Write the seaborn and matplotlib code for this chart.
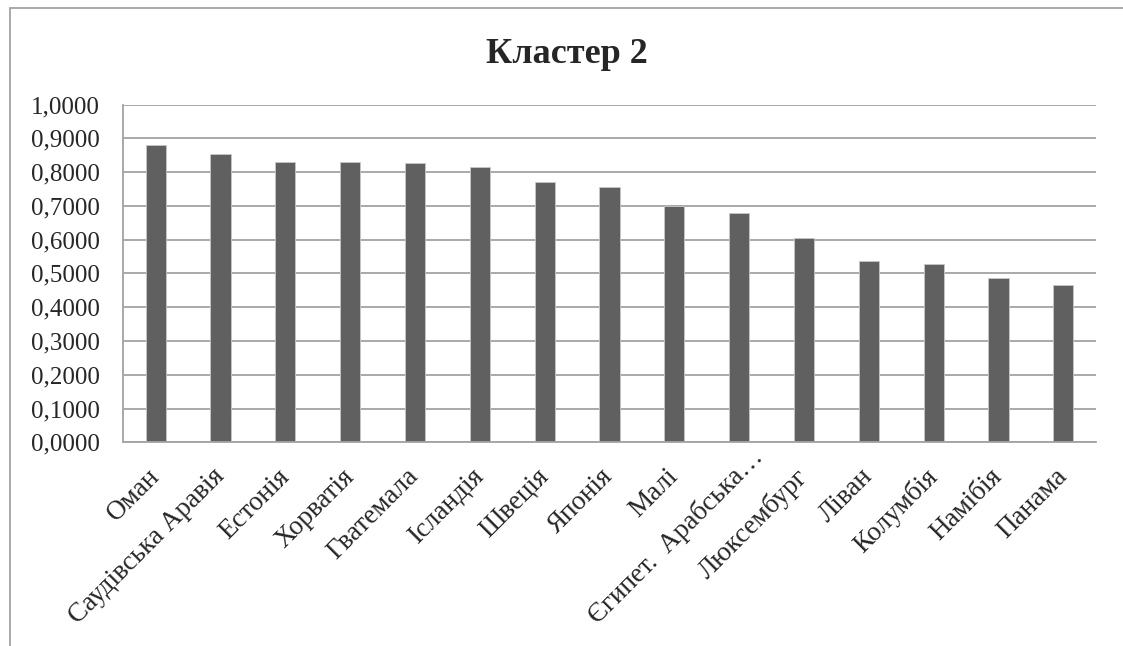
import matplotlib
matplotlib.use("Agg")
import matplotlib.pyplot as plt
from matplotlib.patches import Rectangle
from matplotlib.ticker import FuncFormatter
from matplotlib.transforms import ScaledTranslation
import seaborn as sns
import pandas as pd

# Data

countries = ["Оман", "Саудівська Аравія", "Естонія", "Хорватія", "Гватемала",
             "Ісландія", "Швеція", "Японія", "Малі", "Єгипет.  Арабська…",
             "Люксембург", "Ліван", "Колумбія", "Намібія", "Панама"]
values = [0.881, 0.855, 0.831, 0.830, 0.828, 0.815, 0.771, 0.755, 0.701,
          0.680, 0.605, 0.537, 0.529, 0.485, 0.466]
y_ticks = [i / 10 for i in range(11)]

df = pd.DataFrame({"country": countries, "value": values})

# Style

sns.set_style("white")
plt.rcParams["font.family"] = ["Liberation Serif", "DejaVu Serif"]

grey_line = "#a3a3a3"
bar_colour = "#606060"

fig = plt.figure(figsize=(11.23, 6.46), dpi=100)
ax = fig.add_axes([0.1098, 0.3153, 0.8659, 0.5229])

sns.barplot(data=df, x="country", y="value", color=bar_colour, saturation=1,
            width=0.31, edgecolor="#c8c8c8", linewidth=0.6, ax=ax)

ax.set_ylim(0, 1.0)
ax.set_xlim(-0.5, len(countries) - 0.5)
ax.set_yticks(y_ticks)
ax.yaxis.set_major_formatter(FuncFormatter(lambda v, p: f"{v:.4f}".replace(".", ",")))
ax.yaxis.grid(True, color=grey_line, linewidth=1.3)
ax.set_axisbelow(True)
ax.set_xlabel("")
ax.set_ylabel("")

for side in ["top", "right"]:
    ax.spines[side].set_visible(False)
for side in ["left", "bottom"]:
    ax.spines[side].set_color(grey_line)
    ax.spines[side].set_linewidth(1.3)

ax.tick_params(axis="y", length=0, pad=17, labelsize=18)
ax.tick_params(axis="x", length=0, pad=22, labelsize=19.5)
plt.setp(ax.get_xticklabels(), rotation=45, ha="right", va="center",
         rotation_mode="anchor")

# the truncated Egypt label sits a little further up the diagonal
egypt = ax.get_xticklabels()[countries.index("Єгипет.  Арабська…")]
egypt.set_transform(egypt.get_transform() + ScaledTranslation(0.2, 0.2, fig.dpi_scale_trans))

# Title and chart frame

fig.text(0.5045, 0.915, "Кластер 2", ha="center", va="center",
         fontsize=26, fontweight="bold")
fig.patches.append(Rectangle((10 / 1123, -0.1), 1.2, (646 - 8) / 646 + 0.1,
                             transform=fig.transFigure, fill=False,
                             edgecolor=grey_line, linewidth=1.3))

fig.savefig("out.png", dpi=100)
